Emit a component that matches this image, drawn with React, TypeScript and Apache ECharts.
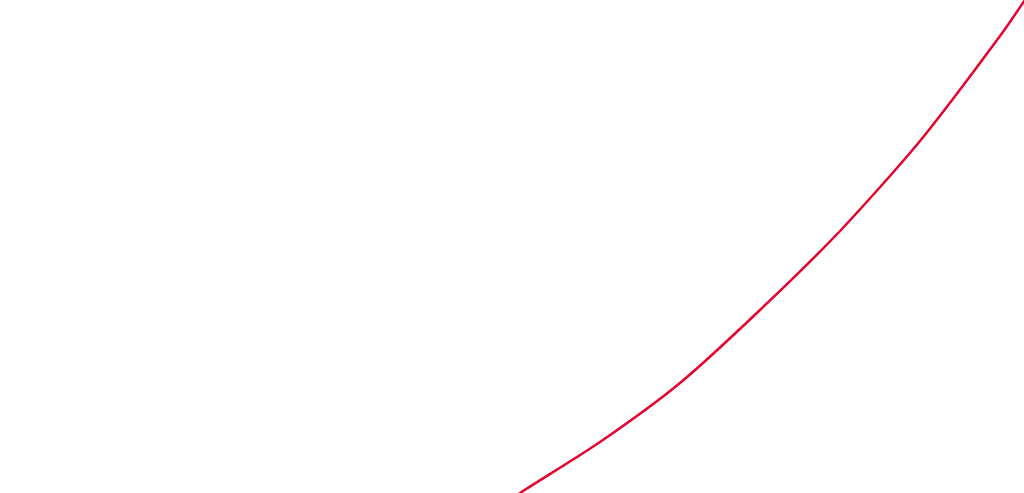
import React, { useEffect, useRef } from "react";
import * as echarts from "echarts";

const xValues = [505, 520, 600, 680, 760, 840, 920, 1000, 1035];
const yValues = [-11, 0, 51, 110, 183, 262, 352, 457, 508];

export default function App() {
  const ref = useRef<HTMLDivElement>(null);
  useEffect(() => {
    if (!ref.current) return;
    const chart = echarts.init(ref.current, null, { renderer: "svg" });
    chart.setOption({
      animation: false,
      grid: { left: 0, right: 0, top: 0, bottom: 0 },
      xAxis: { type: "value", min: 0, max: 1024, show: false },
      yAxis: { type: "value", min: 0, max: 493, show: false },
      series: [
        {
          type: "line",
          data: xValues.map((x, i) => [x, yValues[i]]),
          smooth: 0.25,
          showSymbol: false,
          clip: true,
          lineStyle: { color: "#e4032e", width: 2.5 },
        },
      ],
    });
    return () => chart.dispose();
  }, []);
  return (
    <div
      ref={ref}
      style={{ position: "fixed", left: 0, top: 0, width: 1024, height: 493, background: "#fff" }}
    />
  );
}
